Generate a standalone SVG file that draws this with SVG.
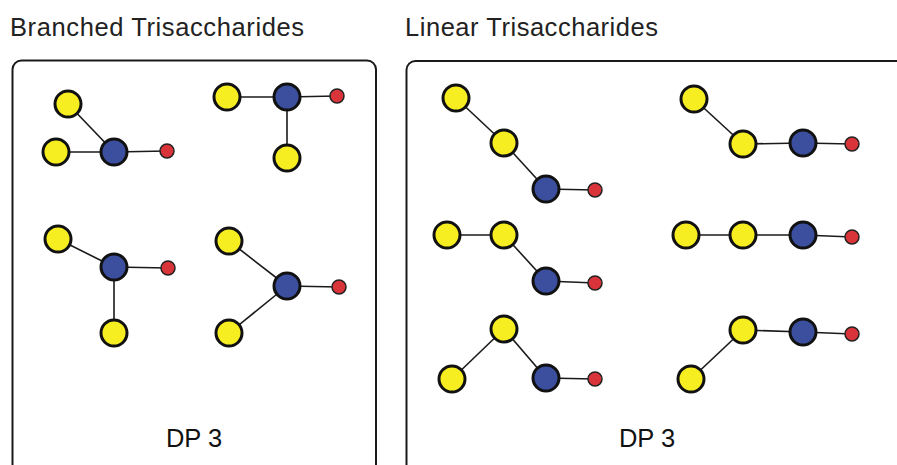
<svg xmlns="http://www.w3.org/2000/svg" width="897" height="465" viewBox="0 0 897 465">
<style>
.title{font-family:"Liberation Sans",Arial,sans-serif;font-size:25.5px;fill:#222}
.dp{font-family:"Liberation Sans",Arial,sans-serif;font-size:25.5px;fill:#111;text-anchor:middle}
.box{fill:#fff;stroke:#1a1a1a;stroke-width:2}
.y{fill:#f7ee22;stroke:#111;stroke-width:3}
.b{fill:#3b4f9e;stroke:#111;stroke-width:3}
.r{fill:#d9343a;stroke:#222;stroke-width:1.5}
.e{stroke:#1a1a1a;stroke-width:1.6;fill:none}
</style>
<rect width="897" height="465" fill="#fff"/>
<text class="title" x="10" y="36" textLength="294">Branched Trisaccharides</text>
<text class="title" x="405" y="36" textLength="253">Linear Trisaccharides</text>
<rect class="box" x="12.5" y="60.5" width="363.5" height="420" rx="9"/>
<rect class="box" x="406.5" y="61" width="510" height="420" rx="9"/>
<text class="dp" x="194" y="447">DP 3</text>
<text class="dp" x="647" y="447">DP 3</text>
<g id="connectors">
<!-- B1 -->
<line class="e" x1="68" y1="104" x2="114" y2="152"/>
<line class="e" x1="56" y1="152" x2="114" y2="152"/>
<line class="e" x1="114" y1="152" x2="167" y2="151"/>
<!-- B2 -->
<line class="e" x1="227" y1="97" x2="287" y2="97"/>
<line class="e" x1="287" y1="97" x2="337" y2="96"/>
<line class="e" x1="287" y1="97" x2="287" y2="158"/>
<!-- B3 -->
<line class="e" x1="58" y1="239" x2="114" y2="267"/>
<line class="e" x1="114" y1="267" x2="168" y2="268"/>
<line class="e" x1="114" y1="267" x2="114" y2="333"/>
<!-- B4 -->
<line class="e" x1="229" y1="241" x2="287" y2="286"/>
<line class="e" x1="229" y1="333" x2="287" y2="286"/>
<line class="e" x1="287" y1="286" x2="339" y2="287"/>
<!-- L1 -->
<line class="e" x1="456" y1="98" x2="504" y2="143"/>
<line class="e" x1="504" y1="143" x2="546" y2="189"/>
<line class="e" x1="546" y1="189" x2="595" y2="190"/>
<!-- L2 -->
<line class="e" x1="694" y1="99" x2="743" y2="144"/>
<line class="e" x1="743" y1="144" x2="803" y2="143"/>
<line class="e" x1="803" y1="143" x2="852" y2="144"/>
<!-- L3 -->
<line class="e" x1="447" y1="235" x2="504" y2="235"/>
<line class="e" x1="504" y1="235" x2="546" y2="281"/>
<line class="e" x1="546" y1="281" x2="595" y2="283"/>
<!-- L4 -->
<line class="e" x1="686" y1="235" x2="803" y2="235"/>
<line class="e" x1="803" y1="235" x2="852" y2="237"/>
<!-- L5 -->
<line class="e" x1="452" y1="379" x2="504" y2="329"/>
<line class="e" x1="504" y1="329" x2="546" y2="378"/>
<line class="e" x1="546" y1="378" x2="595" y2="379"/>
<!-- L6 -->
<line class="e" x1="691" y1="379" x2="743" y2="330"/>
<line class="e" x1="743" y1="330" x2="803" y2="332"/>
<line class="e" x1="803" y1="332" x2="852" y2="334"/>
</g>
<g id="b1">
<circle class="y" cx="68" cy="104" r="13"/>
<circle class="y" cx="56" cy="152" r="13"/>
<circle class="b" cx="114" cy="152" r="13"/>
<circle class="r" cx="167" cy="151" r="7"/>
</g>
<g id="b2">
<circle class="y" cx="227" cy="97" r="13"/>
<circle class="b" cx="287" cy="97" r="13"/>
<circle class="r" cx="337" cy="96" r="7"/>
<circle class="y" cx="287" cy="158" r="13"/>
</g>
<g id="b3">
<circle class="y" cx="58" cy="239" r="13"/>
<circle class="b" cx="114" cy="267" r="13"/>
<circle class="r" cx="168" cy="268" r="7"/>
<circle class="y" cx="114" cy="333" r="13"/>
</g>
<g id="b4">
<circle class="y" cx="229" cy="241" r="13"/>
<circle class="b" cx="287" cy="286" r="13"/>
<circle class="r" cx="339" cy="287" r="7"/>
<circle class="y" cx="229" cy="333" r="13"/>
</g>
<g id="l1">
<circle class="y" cx="456" cy="98" r="13"/>
<circle class="y" cx="504" cy="143" r="13"/>
<circle class="b" cx="546" cy="189" r="13"/>
<circle class="r" cx="595" cy="190" r="7"/>
</g>
<g id="l2">
<circle class="y" cx="694" cy="99" r="13"/>
<circle class="y" cx="743" cy="144" r="13"/>
<circle class="b" cx="803" cy="143" r="13"/>
<circle class="r" cx="852" cy="144" r="7"/>
</g>
<g id="l3">
<circle class="y" cx="447" cy="235" r="13"/>
<circle class="y" cx="504" cy="235" r="13"/>
<circle class="b" cx="546" cy="281" r="13"/>
<circle class="r" cx="595" cy="283" r="7"/>
</g>
<g id="l4">
<circle class="y" cx="686" cy="235" r="13"/>
<circle class="y" cx="743" cy="235" r="13"/>
<circle class="b" cx="803" cy="235" r="13"/>
<circle class="r" cx="852" cy="237" r="7"/>
</g>
<g id="l5">
<circle class="y" cx="504" cy="329" r="13"/>
<circle class="y" cx="452" cy="379" r="13"/>
<circle class="b" cx="546" cy="378" r="13"/>
<circle class="r" cx="595" cy="379" r="7"/>
</g>
<g id="l6">
<circle class="y" cx="743" cy="330" r="13"/>
<circle class="b" cx="803" cy="332" r="13"/>
<circle class="r" cx="852" cy="334" r="7"/>
<circle class="y" cx="691" cy="379" r="13"/>
</g>
</svg>
